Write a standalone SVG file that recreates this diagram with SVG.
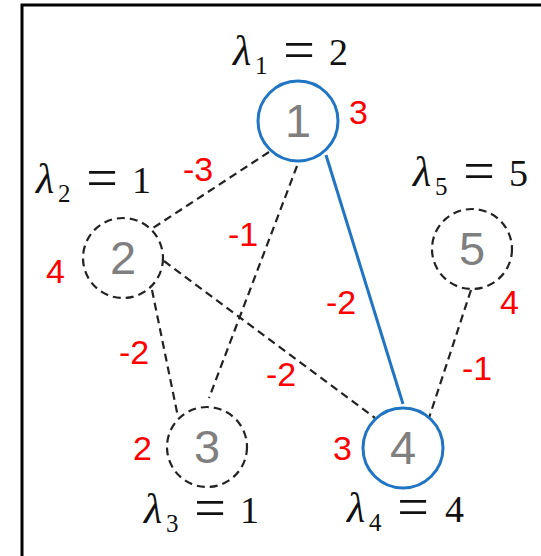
<svg xmlns="http://www.w3.org/2000/svg" width="541" height="556" viewBox="0 0 541 556">
<style>
.frame{fill:none;stroke:#000;stroke-width:3}
.dash{fill:none;stroke:#222;stroke-width:2.2;stroke-dasharray:8 5}
.solid{fill:none;stroke:#1f74c3;stroke-width:3}
.nb{fill:#fff;stroke:#1f74c3;stroke-width:3}
.nd{fill:#fff;stroke:#222;stroke-width:2.2;stroke-dasharray:8 5}
.num{font-family:"Liberation Sans",Arial,sans-serif;font-size:47px;fill:#7f7f7f;text-anchor:middle}
.w{font-family:"Liberation Sans",Arial,sans-serif;font-size:34px;fill:#ff0000}
.lam{font-family:"Liberation Serif","DejaVu Serif",serif;font-size:38px;fill:#111}
.sub{font-size:25px}
.eq{font-size:56px}
</style>
<rect x="0" y="0" width="541" height="556" fill="#fff"/>
<path class="frame" d="M22,556 V5 H541"/>
<g id="connectors">
<line class="dash" x1="269" y1="152" x2="153" y2="228"/>
<line class="dash" x1="297" y1="166" x2="209" y2="398"/>
<line class="solid" x1="326" y1="155" x2="403" y2="404"/>
<line class="dash" x1="152" y1="290" x2="178" y2="417"/>
<line class="dash" x1="164" y1="261" x2="375" y2="418"/>
<line class="dash" x1="471" y1="290" x2="429" y2="418"/>
</g>
<g id="node1">
<circle class="nb" cx="298" cy="121" r="40"/>
<text class="num" x="298" y="137">1</text>
<text class="lam" x="233" y="65"><tspan font-style="italic" font-size="42px">λ</tspan><tspan class="sub" x="255" y="74">1</tspan></text>
<text class="lam eq" x="299" y="69" text-anchor="middle">=</text>
<text class="lam" x="329" y="65">2</text>
<text class="w" x="349" y="124">3</text>
</g>
<g id="node2">
<circle class="nd" cx="123" cy="258" r="40"/>
<text class="num" x="123" y="274">2</text>
<text class="lam" x="36" y="193"><tspan font-style="italic" font-size="42px">λ</tspan><tspan class="sub" x="58" y="202">2</tspan></text>
<text class="lam eq" x="102" y="197" text-anchor="middle">=</text>
<text class="lam" x="132" y="193">1</text>
<text class="w" x="46" y="283">4</text>
</g>
<g id="node3">
<circle class="nd" cx="207" cy="447" r="40"/>
<text class="num" x="207" y="463">3</text>
<text class="lam" x="144" y="523"><tspan font-style="italic" font-size="42px">λ</tspan><tspan class="sub" x="166" y="532">3</tspan></text>
<text class="lam eq" x="210" y="527" text-anchor="middle">=</text>
<text class="lam" x="240" y="523">1</text>
<text class="w" x="133" y="460">2</text>
</g>
<g id="node4">
<circle class="nb" cx="403" cy="448" r="40"/>
<text class="num" x="403" y="464">4</text>
<text class="lam" x="347" y="522"><tspan font-style="italic" font-size="42px">λ</tspan><tspan class="sub" x="369" y="531">4</tspan></text>
<text class="lam eq" x="413" y="526" text-anchor="middle">=</text>
<text class="lam" x="445" y="522">4</text>
<text class="w" x="333" y="460">3</text>
</g>
<g id="node5">
<circle class="nd" cx="472" cy="249" r="40"/>
<text class="num" x="472" y="265">5</text>
<text class="lam" x="413" y="186"><tspan font-style="italic" font-size="42px">λ</tspan><tspan class="sub" x="435" y="195">5</tspan></text>
<text class="lam eq" x="479" y="190" text-anchor="middle">=</text>
<text class="lam" x="509" y="186">5</text>
<text class="w" x="500" y="314">4</text>
</g>
<g id="weights">
<text class="w" x="183" y="181">-3</text>
<text class="w" x="228" y="246">-1</text>
<text class="w" x="326" y="314">-2</text>
<text class="w" x="119" y="364">-2</text>
<text class="w" x="266" y="386">-2</text>
<text class="w" x="462" y="380">-1</text>
</g>
</svg>
